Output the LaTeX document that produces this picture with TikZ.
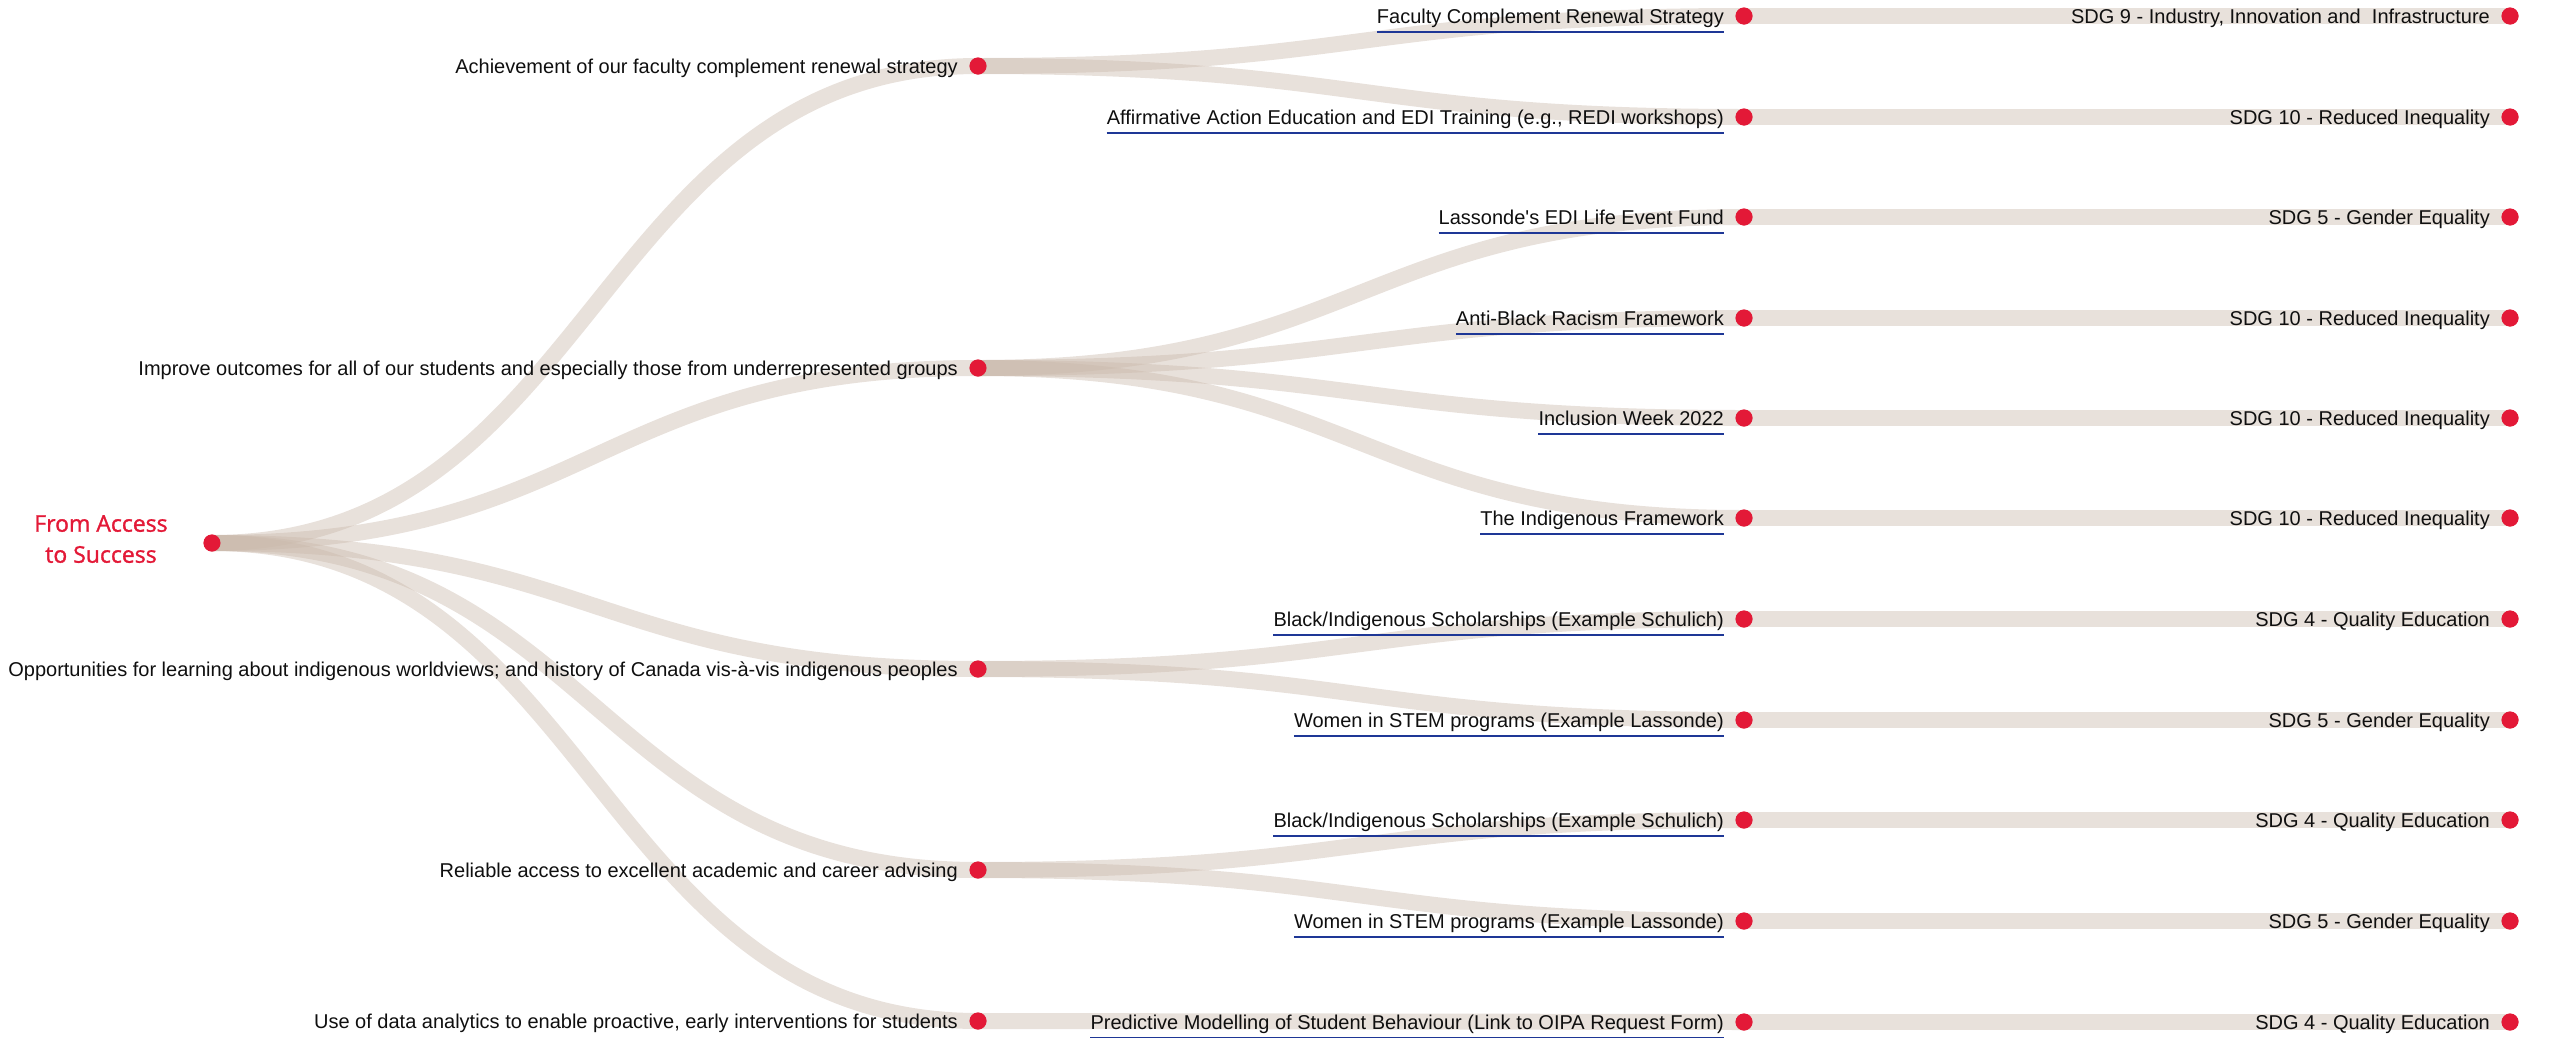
\documentclass[tikz,border=0pt]{standalone}
\usepackage{fontspec}
\setmainfont{Liberation Sans}
\newfontfamily\titlefont[FakeBold=1.3]{Open Sans}
\definecolor{dotred}{RGB}{227,25,55}
\definecolor{bandc}{RGB}{201,184,170}
\definecolor{linkblue}{RGB}{30,55,150}
\definecolor{txt}{RGB}{15,15,15}
\begin{document}
\begin{tikzpicture}[x=1pt,y=-1pt,
  dot/.style={circle,fill=dotred,inner sep=0pt,minimum size=17pt},
  band/.style={draw=bandc,draw opacity=0.42,line width=16pt},
  lbl/.style={anchor=base east,inner sep=0pt,font=\fontsize{20pt}{24pt}\selectfont,text=txt},
  ulink/.style={draw=linkblue,line width=2.2pt}]
\useasboundingbox (0,0) rectangle (2549,1037);
% dots
\node[dot] (r) at (212,543) {};
\node[dot] (a1) at (978,66) {};
\node[dot] (a2) at (978,368) {};
\node[dot] (a3) at (978,669) {};
\node[dot] (a4) at (978,870) {};
\node[dot] (a5) at (978,1021) {};
\foreach \i/\y in {1/16,2/117,3/217,4/318,5/418,6/518,7/619,8/720,9/820,10/921,11/1022}{
  \node[dot] (b\i) at (1744,\y) {};
  \node[dot] (c\i) at (2510,\y) {};
}
% bands
\foreach \s/\t in {r/a1,r/a2,r/a3,r/a4,r/a5,a1/b1,a1/b2,a2/b3,a2/b4,a2/b5,a2/b6,a3/b7,a3/b8,a4/b9,a4/b10,a5/b11}{
  \draw[band] (\s.center) .. controls +(383,0) and +(-383,0) .. (\t.center);
}
\foreach \i in {1,...,11}{
  \draw[band] (b\i.center) -- (c\i.center);
}
% redraw dots on top of the bands
\foreach \n in {r,a1,a2,a3,a4,a5,b1,b2,b3,b4,b5,b6,b7,b8,b9,b10,b11,c1,c2,c3,c4,c5,c6,c7,c8,c9,c10,c11}{
  \fill[dotred] (\n.center) circle (8.5pt);
}
% title
\node[font=\titlefont\fontsize{23pt}{31pt}\selectfont,text=dotred,align=center,anchor=north,inner sep=0pt] (title) at (101,515) {From Access\\to Success};
% level 1 labels
\node[lbl] (la1) at ([xshift=-20pt,yshift=-7pt]a1.center) {Achievement of our faculty complement renewal strategy};
\node[lbl] (la2) at ([xshift=-20pt,yshift=-7pt]a2.center) {Improve outcomes for all of our students and especially those from underrepresented groups};
\node[lbl] (la3) at ([xshift=-20pt,yshift=-7pt]a3.center) {Opportunities for learning about indigenous worldviews; and history of Canada vis-à-vis indigenous peoples};
\node[lbl] (la4) at ([xshift=-20pt,yshift=-7pt]a4.center) {Reliable access to excellent academic and career advising};
\node[lbl] (la5) at ([xshift=-20pt,yshift=-7pt]a5.center) {Use of data analytics to enable proactive, early interventions for students};
% level 2 labels
\foreach \i/\t in {1/{Faculty Complement Renewal Strategy},
  2/{Affirmative Action Education and EDI Training (e.g., REDI workshops)},
  3/{Lassonde\textquotesingle s EDI Life Event Fund},
  4/{Anti-Black Racism Framework},
  5/{Inclusion Week 2022},
  6/{The Indigenous Framework},
  7/{Black/Indigenous Scholarships (Example Schulich)},
  8/{Women in STEM programs (Example Lassonde)},
  9/{Black/Indigenous Scholarships (Example Schulich)},
  10/{Women in STEM programs (Example Lassonde)},
  11/{Predictive Modelling of Student Behaviour (Link to OIPA Request Form)}}{
  \node[lbl] (lb\i) at ([xshift=-20pt,yshift=-7pt]b\i.center) {\t};
  \draw[ulink] ([yshift=-9pt]lb\i.base west) -- ([yshift=-9pt]lb\i.base east);
}
% level 3 labels
\foreach \i/\t in {1/{SDG 9 - Industry, Innovation and~ Infrastructure},
  2/{SDG 10 - Reduced Inequality},
  3/{SDG 5 - Gender Equality},
  4/{SDG 10 - Reduced Inequality},
  5/{SDG 10 - Reduced Inequality},
  6/{SDG 10 - Reduced Inequality},
  7/{SDG 4 - Quality Education},
  8/{SDG 5 - Gender Equality},
  9/{SDG 4 - Quality Education},
  10/{SDG 5 - Gender Equality},
  11/{SDG 4 - Quality Education}}{
  \node[lbl] (lc\i) at ([xshift=-20pt,yshift=-7pt]c\i.center) {\t};
}
\end{tikzpicture}
\end{document}
